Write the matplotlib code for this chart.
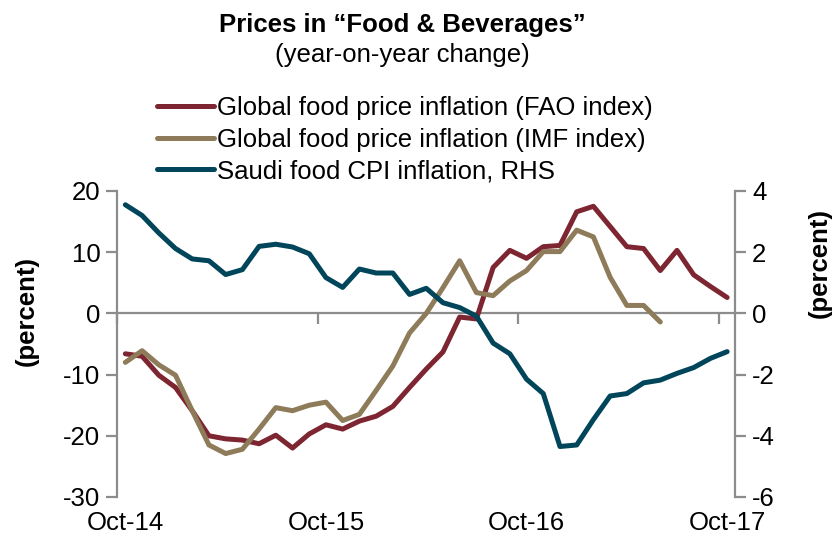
import matplotlib
matplotlib.use("Agg")
import matplotlib.pyplot as plt
import matplotlib.transforms as mtransforms
import numpy as np

plt.rcParams['font.family'] = ['Liberation Sans', 'DejaVu Sans']

months = ['Oct-14', 'Nov-14', 'Dec-14', 'Jan-15', 'Feb-15', 'Mar-15', 'Apr-15', 'May-15', 'Jun-15',
          'Jul-15', 'Aug-15', 'Sep-15', 'Oct-15', 'Nov-15', 'Dec-15', 'Jan-16', 'Feb-16', 'Mar-16',
          'Apr-16', 'May-16', 'Jun-16', 'Jul-16', 'Aug-16', 'Sep-16', 'Oct-16', 'Nov-16', 'Dec-16',
          'Jan-17', 'Feb-17', 'Mar-17', 'Apr-17', 'May-17', 'Jun-17', 'Jul-17', 'Aug-17', 'Sep-17', 'Oct-17']

fao = [-6.6, -7.0, -10.1, -12.1, -15.9, -20.0, -20.5, -20.7, -21.3, -19.9, -22.0, -19.7, -18.2,
       -18.9, -17.6, -16.8, -15.2, -12.1, -9.1, -6.3, -0.6, -0.9, 7.5, 10.3, 9.0, 10.9, 11.1,
       16.6, 17.5, 14.2, 10.9, 10.6, 7.0, 10.3, 6.3, 4.4, 2.6]

imf = [-8.0, -6.1, -8.4, -10.1, -15.9, -21.5, -22.9, -22.2, -18.9, -15.4, -15.9, -15.0, -14.5,
       -17.5, -16.5, -12.6, -8.6, -3.2, 0.0, 4.2, 8.6, 3.4, 2.9, 5.3, 7.0, 10.1, 10.1, 13.6, 12.5,
       5.9, 1.3, 1.3, -1.4]

saudi = [3.55, 3.2, 2.63, 2.12, 1.78, 1.72, 1.27, 1.43, 2.19, 2.26, 2.17, 1.95, 1.17, 0.85, 1.45,
         1.32, 1.32, 0.62, 0.82, 0.35, 0.19, -0.09, -0.97, -1.32, -2.15, -2.62, -4.35, -4.3, -3.47,
         -2.7, -2.62, -2.27, -2.18, -1.96, -1.77, -1.47, -1.25]

xtick_labels = ['Oct-14', 'Oct-15', 'Oct-16', 'Oct-17']
left_ticks = [-30, -20, -10, 0, 10, 20]
right_ticks = [-6, -4, -2, 0, 2, 4]

c_fao = '#7D2530'
c_imf = '#8E7B5A'
c_saudi = '#00455A'
c_axis = '#8C8C8C'
fs = 18.5

fig = plt.figure(figsize=(8.37, 5.42), dpi=100)
ax = fig.add_axes([117/837, 1-497/542, (735.5-117)/837, (497-191)/542])
ax2 = ax.twinx()

x = np.arange(len(months))
l1, = ax.plot(x[:len(fao)], fao, color=c_fao, lw=3.6, solid_capstyle='round', zorder=3)
l2, = ax.plot(x[:len(imf)], imf, color=c_imf, lw=3.6, solid_capstyle='round', zorder=3)
l3, = ax2.plot(x[:len(saudi)], saudi, color=c_saudi, lw=3.6, solid_capstyle='round', zorder=3)

ax.set_xlim(-0.5, len(months) - 0.5)
ax.set_ylim(-30, 20)
ax2.set_ylim(-6, 4)
ax.set_yticks(left_ticks)
ax2.set_yticks(right_ticks)
ax.set_yticklabels([str(v) for v in left_ticks], fontsize=fs)
ax2.set_yticklabels([str(v) for v in right_ticks], fontsize=fs)

for a in (ax, ax2):
    a.spines['top'].set_visible(False)
    a.patch.set_visible(False)
ax.spines['right'].set_visible(False)
ax2.spines['left'].set_visible(False)
ax2.spines['bottom'].set_visible(False)
ax.spines['bottom'].set_position(('data', 0))
for s in [ax.spines['left'], ax.spines['bottom'], ax2.spines['right']]:
    s.set_color(c_axis)
    s.set_linewidth(1.6)

ax.tick_params(axis='y', colors=c_axis, labelcolor='black', width=1.6, length=8, pad=4, direction='out')
ax2.tick_params(axis='y', colors=c_axis, labelcolor='black', width=1.6, length=8, pad=4, direction='out')

# x ticks at year boundaries
label_idx = [months.index(m) for m in xtick_labels]
ax.set_xticks([i - 0.5 for i in label_idx])
ax.set_xticklabels([])
ax.tick_params(axis='x', colors=c_axis, width=1.6, length=8, direction='out')
ax2.tick_params(axis='x', length=0, labelbottom=False)

trans = mtransforms.blended_transform_factory(ax.transData, ax.transAxes)
for i, lab in zip(label_idx, xtick_labels):
    ax.text(i, -0.045, lab, transform=trans, ha='center', va='top', fontsize=fs)

fig.text(27/837, 1-311/542, '(percent)', rotation=90, ha='center', va='center', fontsize=fs, fontweight='bold')
fig.text(820/837, 1-263/542, '(percent)', rotation=90, ha='center', va='center', fontsize=fs, fontweight='bold')

fig.text(402/837, 1-25/542, 'Prices in \u201cFood & Beverages\u201d', ha='center', va='center',
         fontsize=fs, fontweight='bold')
fig.text(402/837, 1-55/542, '(year-on-year change)', ha='center', va='center', fontsize=fs)

leg = fig.legend([l1, l2, l3],
                 ['Global food price inflation (FAO index)', 'Global food price inflation (IMF index)',
                  'Saudi food CPI inflation, RHS'],
                 loc='upper left', bbox_to_anchor=(157/837, 1-96/542), frameon=False, fontsize=fs,
                 handlelength=2.2, handletextpad=0.15, labelspacing=0.3, borderpad=0, borderaxespad=0)

fig.savefig('out.png', dpi=100)
